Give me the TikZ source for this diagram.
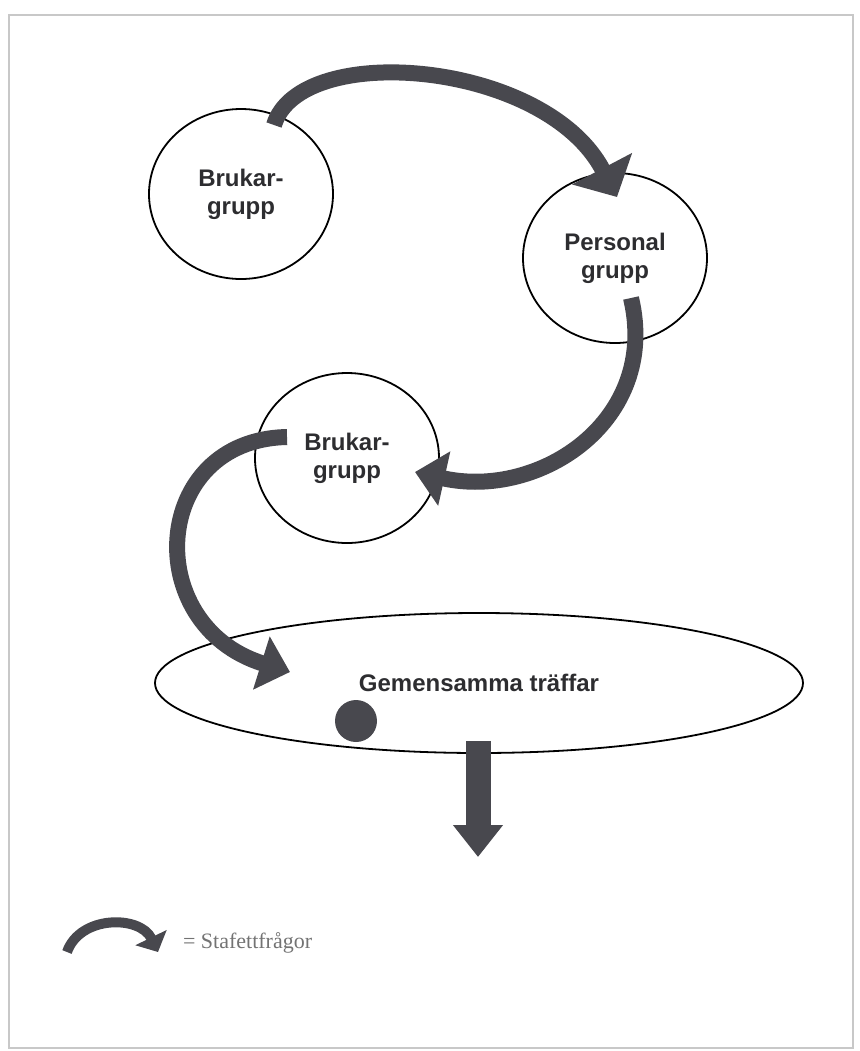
\documentclass[tikz,border=0pt]{standalone}
\usepackage{fontspec}
\usetikzlibrary{arrows.meta,shapes.geometric,calc}
\newfontfamily\grpfont{Liberation Sans}
\newfontfamily\legfont{Liberation Serif}
\definecolor{relay}{RGB}{72,72,78}
\definecolor{txtc}{RGB}{45,45,48}
\definecolor{framec}{RGB}{200,200,200}

\begin{document}
\begin{tikzpicture}[x=0.5pt, y=-0.5pt,
  grp/.style={draw, ellipse, line width=0.9pt, minimum width=92pt, minimum height=85pt,
    inner sep=0pt, align=center, text=txtc, font=\grpfont\bfseries\fontsize{12}{14}\selectfont},
  relayarr/.style={draw=relay, line width=8pt, -{Triangle[length=15pt,width=27pt]}}]
  \useasboundingbox (0,0) rectangle (860,1051);
  % page frame
  \draw[framec, line width=1pt] (9,15) rectangle (853,1048);
  % groups
  \node[grp] (bg1) at (241,194) {Brukar-\\grupp};
  \node[grp] (pg) at (615,258) {Personal\\grupp};
  \node[grp] (bg2) at (347,458) {Brukar-\\grupp};
  \node[grp, minimum width=324pt, minimum height=70pt] (gem) at (479,683) {Gemensamma träffar};
  \node[circle, fill=relay, minimum size=21pt, inner sep=0pt] (dot) at (356,721) {};
  % relay questions between the groups
  \draw[relayarr, -{Triangle[length=16pt,width=33pt]}] ($(bg1.center)+(33,-69)$) .. controls (300,40) and (545,60) .. ($(pg.center)+(2,-61)$);
  \draw[relayarr] ($(pg.center)+(16,40)$) .. controls (660,420) and (540,500) .. ($(bg2.center)+(68,14)$);
  \draw[relayarr] ($(bg2.center)+(-60,-21)$) .. controls (150,440) and (140,625) .. ($(gem.center)+(-189,-11)$);
  % onwards
  \coordinate (next) at (478,857);
  \draw[relay, line width=12.5pt, -{Triangle[length=16pt,width=24pt]}] ($(gem.south)+(-1,-13)$) -- (next);
  % legend
  \coordinate (lgA) at (67,952);
  \coordinate (lgB) at (158,952);
  \draw[relay, line width=5pt, -{Triangle[length=8pt,width=17pt]}] (lgA) .. controls (80,915) and (140,915) .. (lgB);
  \node[anchor=west, text=black!55, font=\legfont\fontsize{11}{13}\selectfont] (leg) at (176,943) {= Stafettfrågor};
\end{tikzpicture}
\end{document}
